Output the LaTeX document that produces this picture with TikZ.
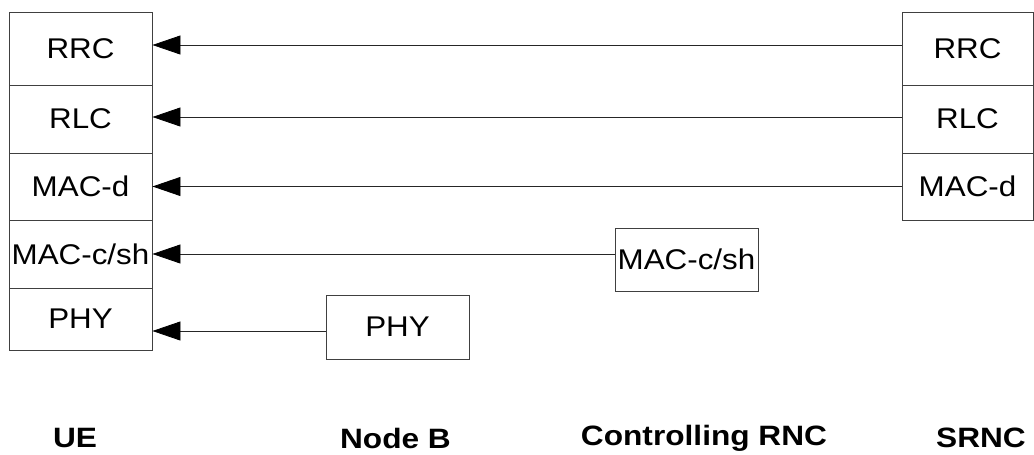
\documentclass[tikz,border=0pt]{standalone}
\usepackage{fontspec}
\setmainfont{Liberation Sans}
\newfontfamily\layerfont[FakeStretch=1.1]{Liberation Sans}
\newfontfamily\entityfont[FakeStretch=1.13]{Liberation Sans}
\usetikzlibrary{arrows.meta}
\begin{document}
\begin{tikzpicture}[x=1pt, y=-1pt,
  layer/.style={draw=black!75, line width=0.9pt, rectangle, inner sep=0pt,
    font=\layerfont\fontsize{28.5}{32}\selectfont},
  entity/.style={font=\entityfont\bfseries\fontsize{28}{32}\selectfont, inner sep=0pt},
  msg/.style={draw=black!85, line width=0.8pt,
    -{Triangle[length=28pt,width=19pt,color=black]}}
]
\useasboundingbox (0,0) rectangle (1034,455);

% UE protocol stack
\node[layer, minimum width=143pt, minimum height=73pt] (ue-rrc)  at (80.5,48.5)  {RRC};
\node[layer, minimum width=143pt, minimum height=68pt] (ue-rlc)  at (80.5,119)   {RLC};
\node[layer, minimum width=143pt, minimum height=67pt] (ue-macd) at (80.5,186.5) {MAC-d};
\node[layer, minimum width=143pt, minimum height=68pt] (ue-macc) at (80.5,254)   {MAC-c/sh};
\node[layer, minimum width=143pt, minimum height=62pt] (ue-phy)  at (80.5,319)   {PHY};

% SRNC protocol stack
\node[layer, minimum width=131pt, minimum height=73pt] (s-rrc)  at (967.5,48.5)  {RRC};
\node[layer, minimum width=131pt, minimum height=68pt] (s-rlc)  at (967.5,119)   {RLC};
\node[layer, minimum width=131pt, minimum height=67pt] (s-macd) at (967.5,186.5) {MAC-d};

% Controlling RNC and Node B
\node[layer, minimum width=143pt, minimum height=63pt] (c-macc) at (686.5,259.5) {MAC-c/sh};
\node[layer, minimum width=143pt, minimum height=64pt] (nb-phy) at (397.5,327)   {PHY};

% Peer-to-peer links
\draw[msg] ([yshift=3.5pt]s-rrc.west) -- ([yshift=3.5pt]ue-rrc.east);
\draw[msg] ([yshift=2pt]s-rlc.west) -- ([yshift=2pt]ue-rlc.east);
\draw[msg] (s-macd.west) -- (ue-macd.east);
\draw[msg] (c-macc.west |- ue-macc.east) -- (ue-macc.east);
\draw[msg] ([yshift=-4pt]nb-phy.west) -- ([yshift=-4pt]nb-phy.west -| ue-phy.east);

% Network element names
\node[entity] (n-ue)   at (75,438)    {UE};
\node[entity] (n-nb)   at (395.5,438) {Node B};
\node[entity] (n-crnc) at (704,438)   {Controlling RNC};
\node[entity] (n-srnc) at (981,438)   {SRNC};
\end{tikzpicture}
\end{document}
